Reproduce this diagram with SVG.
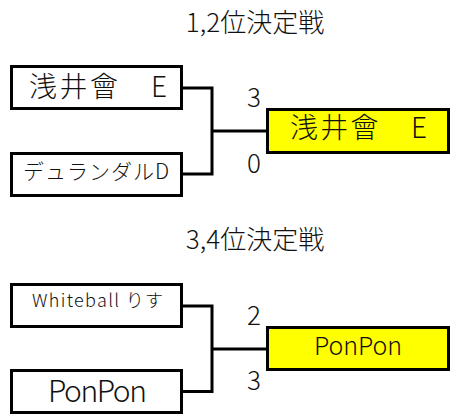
<svg xmlns="http://www.w3.org/2000/svg" width="452" height="415" viewBox="0 0 452 415">
<style>
text{font-family:"Noto Sans CJK JP","Noto Sans",sans-serif;font-weight:300;fill:#111;}
.box{fill:#fff;stroke:#000;stroke-width:3;}
.win{fill:#ffff00;stroke:#000;stroke-width:3;}
.ln{fill:none;stroke:#000;stroke-width:3;}
.t{font-size:26px;text-anchor:middle;}
.sc{font-size:26px;text-anchor:middle;}
</style>
<rect width="452" height="415" fill="#fff"/>
<text class="t" x="255" y="32">1,2位決定戦</text>
<text class="t" x="255" y="249">3,4位決定戦</text>
<g id="connectors">
<polyline class="ln" points="183,88 212,88 212,174 183,174"/>
<line class="ln" x1="212" y1="131" x2="267" y2="131"/>
<polyline class="ln" points="183,306 212,306 212,391.5 183,391.5"/>
<line class="ln" x1="212" y1="349" x2="267" y2="349"/>
</g>
<g id="n1">
<rect class="box" x="11.5" y="66.5" width="170" height="42"/>
<text x="29" y="97" font-size="28" textLength="138" lengthAdjust="spacing">浅井會　E</text>
</g>
<g id="n2">
<rect class="box" x="11.5" y="153.5" width="170" height="42"/>
<text x="23" y="179" font-size="21" textLength="146" lengthAdjust="spacing">デュランダルD</text>
</g>
<g id="n3">
<rect class="win" x="267.5" y="109.5" width="181" height="43"/>
<text x="290" y="138" font-size="28" textLength="137" lengthAdjust="spacing">浅井會　E</text>
</g>
<g id="n4">
<rect class="box" x="11.5" y="284.5" width="170" height="42"/>
<text x="32" y="306.5" font-size="18" textLength="131" lengthAdjust="spacing">Whiteball りす</text>
</g>
<g id="n5">
<rect class="box" x="11.5" y="370.5" width="170" height="42"/>
<text x="48" y="401.5" font-size="30" textLength="99" lengthAdjust="spacing">PonPon</text>
</g>
<g id="n6">
<rect class="win" x="267.5" y="327.5" width="181" height="42"/>
<text x="314" y="355" font-size="25" textLength="88" lengthAdjust="spacing">PonPon</text>
</g>
<text class="sc" x="254" y="107">3</text>
<text class="sc" x="254" y="173">0</text>
<text class="sc" x="254" y="325">2</text>
<text class="sc" x="254" y="390">3</text>
</svg>
